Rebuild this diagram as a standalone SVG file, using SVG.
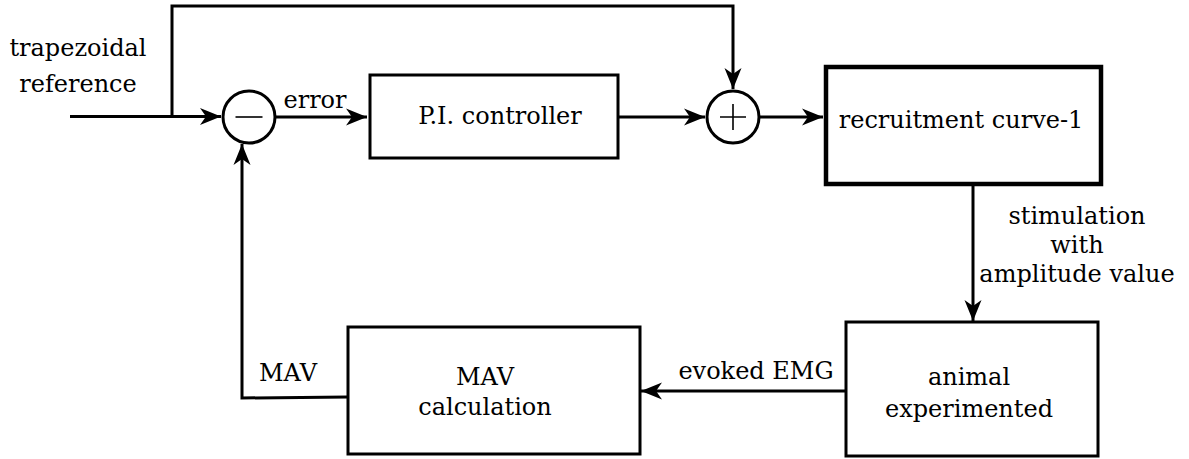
<svg xmlns="http://www.w3.org/2000/svg" width="1189" height="459" viewBox="0 0 1189 459">
<style>
.box{fill:#fff;stroke:#000;stroke-width:3}
.thick{stroke-width:4.5}
.sum{fill:#fff;stroke:#000;stroke-width:3}
.sign{stroke:#000;stroke-width:1.6;fill:none}
.wire{fill:none;stroke:#000;stroke-width:3}
text{font-family:"DejaVu Serif","Liberation Serif",serif;font-size:24px;fill:#000;text-anchor:middle}
</style>
<defs>
<marker id="arr" markerUnits="userSpaceOnUse" markerWidth="24" markerHeight="20" viewBox="-22 -10 24 20" refX="0" refY="0" orient="auto">
<path d="M0,0 L-21,-8.5 L-15,0 L-21,8.5 Z" fill="#000"/>
</marker>
</defs>
<g id="connectors">
<path class="wire" d="M70,116.5 H221" marker-end="url(#arr)"/>
<path class="wire" d="M172,116.5 V6 H733 V89" marker-end="url(#arr)"/>
<path class="wire" d="M275,117 H367" marker-end="url(#arr)"/>
<path class="wire" d="M618,117 H705" marker-end="url(#arr)"/>
<path class="wire" d="M759,117 H823" marker-end="url(#arr)"/>
<path class="wire" d="M973,185 V321" marker-end="url(#arr)"/>
<path class="wire" d="M846,391 H641" marker-end="url(#arr)"/>
<path class="wire" d="M348,397 L242,398 V144" marker-end="url(#arr)"/>
</g>
<g id="labels">
<text x="78" y="56">trapezoidal</text>
<text x="78" y="92">reference</text>
<text x="315" y="108">error</text>
<text x="1077" y="224">stimulation</text>
<text x="1077" y="253">with</text>
<text x="1077" y="282">amplitude value</text>
<text x="756" y="379">evoked EMG</text>
<text x="288" y="381">MAV</text>
</g>
<g id="minus">
<circle class="sum" cx="249" cy="117" r="26"/>
<path class="sign" d="M235.5,117 H262.5"/>
</g>
<g id="pi">
<rect class="box" x="370" y="75" width="248" height="83"/>
<text x="500" y="124">P.I. controller</text>
</g>
<g id="plus">
<circle class="sum" cx="733" cy="117" r="26"/>
<path class="sign" d="M720,117 H746 M733,104 V130"/>
</g>
<g id="recruitment">
<rect class="box thick" x="826" y="67" width="275" height="117"/>
<text x="961" y="128">recruitment curve-1</text>
</g>
<g id="animal">
<rect class="box" x="846" y="322" width="252" height="134"/>
<text x="969" y="385">animal</text>
<text x="969" y="417">experimented</text>
</g>
<g id="mav">
<rect class="box" x="348" y="327" width="292" height="127"/>
<text x="485" y="385">MAV</text>
<text x="485" y="415">calculation</text>
</g>
</svg>
